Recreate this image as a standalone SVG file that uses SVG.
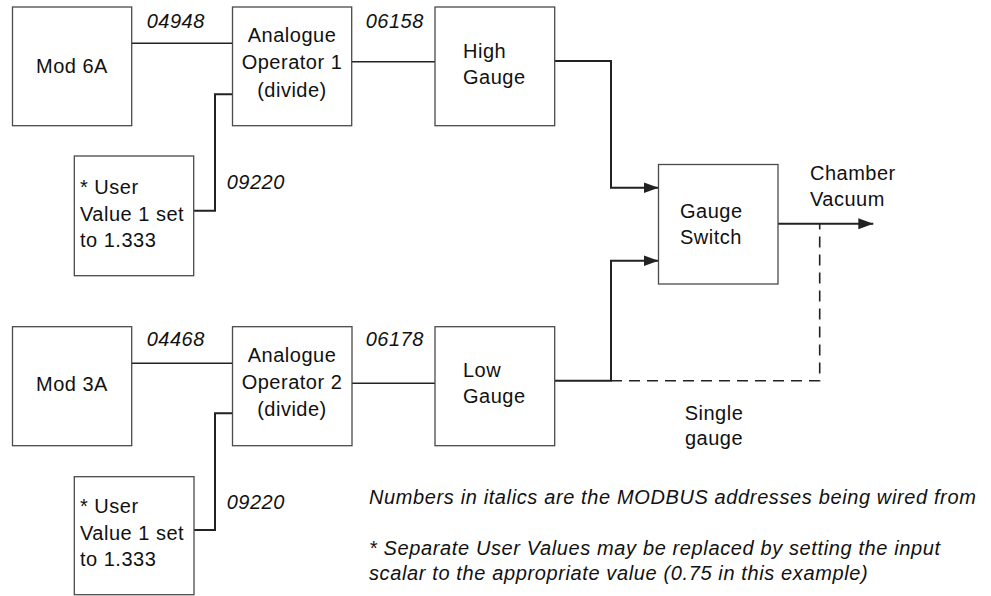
<svg xmlns="http://www.w3.org/2000/svg" width="991" height="596" viewBox="0 0 991 596">
<defs>
<marker id="arr" markerWidth="16" markerHeight="12" refX="15" refY="5.5" orient="auto" markerUnits="userSpaceOnUse"><path d="M0,0 L15,5.5 L0,11 Z" fill="#222"/></marker>
</defs>
<style>
.box{fill:#fff;stroke:#4a4a4a;stroke-width:1.3}
.t{font-family:"Liberation Sans",Arial,sans-serif;font-size:20px;letter-spacing:0.5px;fill:#111}
.c{text-anchor:middle}
.i{font-style:italic}
.n{letter-spacing:0.62px}
.w{fill:none;stroke:#222;stroke-width:1.6}
.w2{fill:none;stroke:#222;stroke-width:2}
.d{fill:none;stroke:#222;stroke-width:1.6;stroke-dasharray:11 7}
</style>
<rect width="991" height="596" fill="#fff"/>
<g id="connectors">
<path class="w" d="M131.7,43.3 H232.5"/>
<path class="w" d="M351.7,61.7 H435"/>
<path class="w2" d="M554.7,61 H611 V187.7 H658.5" marker-end="url(#arr)"/>
<path class="w2" d="M193.7,210.7 H215 V94.3 H232.5"/>
<path class="w" d="M131.7,363.3 H232.5"/>
<path class="w" d="M352,383.3 H435"/>
<path class="w2" d="M554.7,380.7 H611 V260.7 H658.5" marker-end="url(#arr)"/>
<path class="w2" d="M194,530 H215 V413.3 H232.5"/>
<path class="w2" d="M778,223.7 H873.3" marker-end="url(#arr)"/>
<path class="d" d="M611,380.7 H819.7 V223.7"/>
<text class="t i" x="146.7" y="28.3">04948</text>
<text class="t i" x="365.7" y="28.3">06158</text>
<text class="t i" x="226.7" y="189">09220</text>
<text class="t i" x="146.7" y="345.7">04468</text>
<text class="t i" x="365.7" y="345.7">06178</text>
<text class="t i" x="226.7" y="509.3">09220</text>
<text class="t" x="810" y="180">Chamber</text>
<text class="t" x="810" y="206">Vacuum</text>
<text class="t c" x="714" y="420">Single</text>
<text class="t c" x="714" y="445">gauge</text>
</g>
<g id="mod6a">
<rect class="box" x="12.5" y="7" width="119.2" height="118.7"/>
<text class="t c" x="72" y="72.5">Mod 6A</text>
</g>
<g id="ao1">
<rect class="box" x="232.5" y="7" width="119.2" height="118.7"/>
<text class="t c" x="292" y="41.7">Analogue</text>
<text class="t c" x="292" y="69">Operator 1</text>
<text class="t c" x="292" y="96.5">(divide)</text>
</g>
<g id="highgauge">
<rect class="box" x="435" y="7" width="119.7" height="118.7"/>
<text class="t" x="463" y="58.3">High</text>
<text class="t" x="463" y="84">Gauge</text>
</g>
<g id="uv1">
<rect class="box" x="74.3" y="156" width="119.4" height="119.7"/>
<text class="t" x="80" y="194">* User</text>
<text class="t" x="80" y="220.7">Value 1 set</text>
<text class="t" x="80" y="247">to 1.333</text>
</g>
<g id="gaugeswitch">
<rect class="box" x="658.5" y="164.5" width="119.5" height="119.5"/>
<text class="t" x="680" y="217.7">Gauge</text>
<text class="t" x="680" y="244">Switch</text>
</g>
<g id="mod3a">
<rect class="box" x="12.5" y="326.7" width="119.2" height="119"/>
<text class="t c" x="72" y="391">Mod 3A</text>
</g>
<g id="ao2">
<rect class="box" x="232.5" y="326.7" width="119.5" height="119"/>
<text class="t c" x="292" y="361.5">Analogue</text>
<text class="t c" x="292" y="388.7">Operator 2</text>
<text class="t c" x="292" y="416.2">(divide)</text>
</g>
<g id="lowgauge">
<rect class="box" x="435" y="326.7" width="119.7" height="119"/>
<text class="t" x="463" y="377.3">Low</text>
<text class="t" x="463" y="402.7">Gauge</text>
</g>
<g id="uv2">
<rect class="box" x="74.3" y="476.7" width="119.7" height="118"/>
<text class="t" x="80" y="513">* User</text>
<text class="t" x="80" y="540">Value 1 set</text>
<text class="t" x="80" y="566">to 1.333</text>
</g>
<g id="notes">
<text class="t i n" x="369" y="504">Numbers in italics are the MODBUS addresses being wired from</text>
<text class="t i n" x="369" y="555">* Separate User Values may be replaced by setting the input</text>
<text class="t i n" x="369" y="580">scalar to the appropriate value (0.75 in this example)</text>
</g>
</svg>
